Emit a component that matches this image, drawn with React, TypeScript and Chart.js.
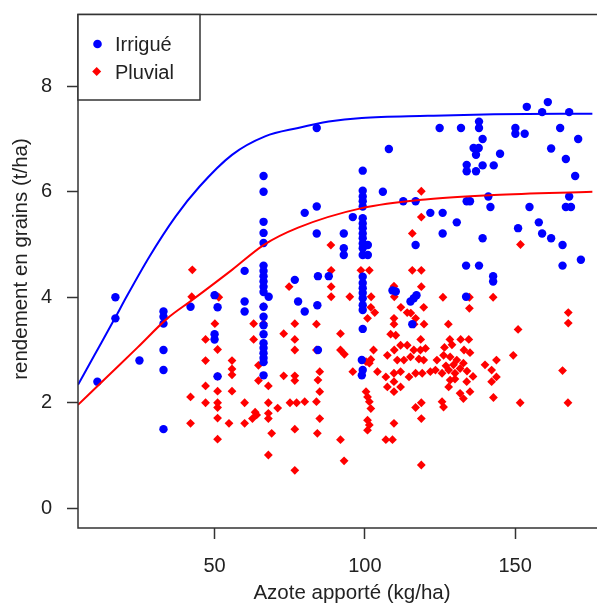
import React, { useEffect, useRef } from "react";
import { Chart, registerables } from "chart.js";

Chart.register(...registerables);

const FONT = "'Liberation Sans', Arial, sans-serif";

const xTicks = [50, 100, 150];
const yTicks = [0, 2, 4, 6, 8];
const xRange = [4.55, 175.8];
const yRange = [-0.374, 9.37];

const seriesNames = ["Irrigué", "Pluvial"];
const xTitle = "Azote apporté (kg/ha)";
const yTitle = "rendement en grains (t/ha)";

// Irrigué: [azote, rendement]
const irrigue: [number, number][] = [
  [11, 2.4], [17, 4.0], [17, 3.6], [25, 2.8],
  [33, 3.73], [33, 3.63], [33, 3.5], [33, 3.0], [33, 2.62], [33, 1.5],
  [42, 3.82],
  [50, 4.04], [51, 3.81], [50, 3.3], [50, 3.2], [51, 2.5],
  [60, 4.5], [60, 3.92], [60, 3.73],
  [66.3, 6.3], [66.3, 6.0], [66.3, 5.43], [66.3, 5.22], [66.3, 5.03], [66.3, 4.6], [66.3, 4.5],
  [66.3, 4.4], [66.3, 4.3], [66.3, 4.2], [66.3, 4.1], [66.3, 3.82], [66.3, 3.63], [66.3, 3.47],
  [66.3, 3.3], [66.3, 3.13], [66.3, 3.04], [66.3, 2.94], [66.3, 2.85], [66.3, 2.77], [66.3, 2.52], [68, 4.01],
  [76.7, 4.33], [77.8, 3.92], [80, 3.73], [80, 5.6], [84, 5.72], [84, 5.21], [84, 7.21],
  [84.4, 4.4], [88, 4.4], [84.2, 3.85], [84.4, 3.0],
  [93, 5.21], [93, 4.93], [93, 4.8], [96, 5.52],
  [99.3, 6.4], [99.3, 6.02], [99.3, 5.91], [99.3, 5.82], [99.3, 5.72], [99.3, 5.5], [99.3, 5.4],
  [99.3, 5.31], [99.3, 5.21], [99.3, 5.12], [99.3, 5.02], [99.3, 4.93], [99.3, 4.8], [99.3, 4.39],
  [99.3, 4.27], [99.3, 4.17], [99.3, 4.08], [99.3, 3.98], [99.3, 3.85], [99.3, 3.76], [99.3, 3.4],
  [99, 2.81], [99.3, 2.62], [99, 2.52], [101, 4.99], [101, 4.8],
  [106, 6.0], [108, 6.81], [112.8, 5.82], [116.9, 5.82], [121.8, 5.6], [125.9, 5.6], [125.9, 5.21],
  [116.9, 4.99], [124.9, 7.21],
  [109.2, 4.13], [110.3, 4.11], [115.2, 3.92], [116.3, 3.98], [117.2, 4.04], [115.8, 3.49],
  [132, 7.21], [138, 7.33], [138, 7.21], [139.2, 7.0], [136.2, 6.83], [137.9, 6.83], [137, 6.7],
  [145, 6.72], [133.9, 6.51], [133.9, 6.39], [137, 6.39], [139.2, 6.5], [142.9, 6.5],
  [150.1, 7.21], [150.1, 7.1], [153.2, 7.1], [153.9, 7.61], [159, 7.51], [160.9, 7.7], [168, 7.51],
  [165, 7.21], [171, 7.0], [162, 6.82], [166.9, 6.62], [170, 6.3],
  [141.1, 5.91], [133.9, 5.82], [135, 5.82], [141.8, 5.71], [154.8, 5.71], [168, 5.91], [166.9, 5.71],
  [168.6, 5.71], [130.6, 5.42], [139.2, 5.12], [151, 5.31], [157.9, 5.42], [159, 5.21], [162, 5.12],
  [165.8, 4.99], [171.9, 4.71], [165.8, 4.6], [133.7, 4.6], [138, 4.6], [142.7, 4.4], [142.7, 4.3],
  [133.7, 4.01],
];

// Pluvial: [azote, rendement]
const pluvial: [number, number][] = [
  [42.6, 4.52], [42.4, 4.01], [42, 2.11], [42, 1.61],
  [47, 3.2], [47, 2.8], [47, 2.32], [47, 2.0],
  [50.2, 4.04], [51.4, 4.0], [50.1, 3.5], [51, 3.01], [51, 2.5], [51, 2.22], [51, 2.0], [51, 1.91],
  [51, 1.71], [51, 1.31],
  [55.8, 2.8], [55.8, 2.64], [55.8, 2.53], [55.8, 2.22], [54.8, 1.61],
  [60, 2.0], [60, 1.61],
  [63, 3.5], [63, 3.2], [63.5, 1.82], [64, 1.77], [62.6, 1.7],
  [64.6, 2.71], [64.6, 2.42],
  [66.3, 3.82], [66.3, 3.5],
  [67.9, 2.32], [67.9, 2.0], [67.9, 1.8], [67.9, 1.7], [67.9, 1.01],
  [69, 1.42], [71, 1.9], [73, 3.31], [73, 2.51], [74.8, 4.2], [75.1, 2.0],
  [76.7, 3.5], [76.7, 3.2], [76.7, 3.0], [76.7, 2.51], [76.7, 2.42], [77.3, 2.0], [76.7, 1.5], [76.7, 0.72],
  [80, 2.02],
  [83.9, 3.49], [83.9, 3.0], [85, 2.59], [84.4, 2.43], [85, 2.21], [83.9, 2.02], [85, 1.7], [84.2, 1.42],
  [88.7, 4.99], [88.8, 4.51], [88.8, 4.2], [88.8, 4.01],
  [91.9, 3.31], [91.9, 3.0], [93.2, 2.92], [91.9, 1.3], [93.1, 0.9],
  [95, 4.01], [96, 2.59], [98.7, 4.51],
  [101.5, 4.51], [102, 3.81], [103.3, 3.71], [100.9, 3.6], [102.9, 3.0], [100.4, 2.78], [101.5, 2.75],
  [102, 2.82], [100.4, 2.21], [100.9, 2.11], [101.5, 2.02], [102, 1.89], [100.9, 1.67], [101.5, 1.58],
  [100.9, 1.48], [102.1, 4.01], [104.2, 2.59],
  [109.7, 4.21], [109.8, 4.01], [109.7, 3.6], [109.7, 3.49], [108.6, 3.3], [110.3, 3.28], [112, 3.81],
  [107.5, 2.9], [109.8, 3.0], [111.9, 3.09], [107, 2.49], [109.7, 2.56], [111.9, 2.59], [110.8, 2.81],
  [107.5, 2.3], [109.7, 2.21], [111.9, 2.3], [109.7, 2.4], [107, 1.3], [109.2, 1.3], [109.7, 1.61],
  [114.1, 3.71], [115.3, 3.7], [116.9, 3.6], [119.6, 3.81], [116.4, 3.49], [119.7, 3.49], [118.6, 3.2],
  [114.1, 3.09], [116.3, 3.0], [118.5, 3.0], [120.2, 3.03], [113, 2.81], [115.2, 2.87], [118, 2.83],
  [119.6, 2.81], [114.7, 2.49], [116.9, 2.56], [119.1, 2.56], [121.8, 2.59], [116.9, 1.91], [118.8, 2.0],
  [118.8, 1.7], [118.8, 0.82], [118.8, 6.01], [118.8, 5.52], [115.8, 5.21], [115.8, 4.51], [118.8, 4.51],
  [118.8, 4.2],
  [126, 4.0], [127.8, 3.49], [128.3, 3.2], [131.9, 3.2], [134.6, 3.2], [124, 2.81], [126.2, 2.9],
  [128.4, 2.87], [130.6, 2.81], [132.8, 2.75], [123.5, 2.62], [125.7, 2.56], [127.9, 2.62], [130, 2.56],
  [131.7, 2.65], [127.9, 2.3], [128.4, 2.43], [131.7, 2.18], [132.8, 2.08], [125.7, 2.02], [126.2, 1.92],
  [133.9, 2.4], [135, 2.21], [134.8, 4.0], [134.8, 3.79],
  [126.5, 3.05], [129, 3.1], [133, 3.0], [135, 2.95], [127, 2.7], [129.5, 2.72], [134, 2.6], [136, 2.5],
  [130, 2.45],
  [140, 2.72], [142.2, 2.62], [143.8, 2.49], [143.8, 2.81], [142.2, 2.4], [142.7, 4.0], [142.8, 2.1],
  [149.4, 2.9], [151, 3.39], [151.7, 2.0], [151.8, 5.0],
  [165.8, 2.61], [167.7, 3.71], [167.7, 3.51], [167.6, 2.0],
];

// fitted curves
const curveIrrigue: [number, number][] = [
  [4.55, 2.34], [10, 2.9], [17, 3.62], [20.6, 4.0], [28.3, 4.77], [37, 5.53], [45, 6.1],
  [55.8, 6.7], [66.8, 7.05], [77.8, 7.21], [88, 7.33], [99, 7.4], [121, 7.44], [143, 7.47], [175.8, 7.48],
];
const curvePluvial: [number, number][] = [
  [4.55, 1.96], [14, 2.48], [24.4, 3.05], [34.3, 3.6], [42.6, 3.95], [55.8, 4.52], [66.3, 4.99],
  [77.8, 5.32], [99, 5.69], [121, 5.86], [143, 5.94], [175.8, 6.0],
];

const BLUE = "#0000ff";
const RED = "#ff0000";
const INK = "#222222";
const FRAME = "#333333";

const toXY = (arr: [number, number][]) => arr.map(([x, y]) => ({ x, y }));

const decorPlugin = {
  id: "decor",
  afterDatasetsDraw(chart: any) {
    const { ctx, chartArea: a } = chart;
    ctx.save();
    // frame (plot box, right side cut off by picture edge)
    ctx.strokeStyle = FRAME;
    ctx.lineWidth = 1.5;
    ctx.beginPath();
    ctx.moveTo(a.right + 10, a.top + 0.5);
    ctx.lineTo(a.left, a.top + 0.5);
    ctx.lineTo(a.left, a.bottom);
    ctx.lineTo(a.right + 10, a.bottom);
    ctx.stroke();

    // legend box
    const lx = a.left, ly = a.top + 0.5, lw = 122, lh = 85.5;
    ctx.fillStyle = "#ffffff";
    ctx.fillRect(lx, ly, lw, lh);
    ctx.strokeRect(lx, ly, lw, lh);
    ctx.fillStyle = BLUE;
    ctx.beginPath();
    ctx.arc(lx + 19.5, ly + 29.5, 4.3, 0, Math.PI * 2);
    ctx.fill();
    ctx.fillStyle = RED;
    const dx = lx + 18.7, dy = ly + 57, r = 4.5;
    ctx.beginPath();
    ctx.moveTo(dx, dy - r);
    ctx.lineTo(dx + r, dy);
    ctx.lineTo(dx, dy + r);
    ctx.lineTo(dx - r, dy);
    ctx.closePath();
    ctx.fill();
    ctx.fillStyle = INK;
    ctx.font = `20px ${FONT}`;
    ctx.textAlign = "left";
    ctx.textBaseline = "alphabetic";
    ctx.fillText(seriesNames[0], lx + 37, ly + 36.5);
    ctx.fillText(seriesNames[1], lx + 37, ly + 64.5);

    // axis titles
    ctx.font = `20.5px ${FONT}`;
    ctx.textAlign = "center";
    ctx.fillText(xTitle, a.left + 274, 599);
    ctx.save();
    ctx.translate(26.5, a.top + 245);
    ctx.rotate(-Math.PI / 2);
    ctx.fillText(yTitle, 0, 0);
    ctx.restore();
    ctx.restore();
  },
};

export default function App() {
  const ref = useRef<HTMLCanvasElement | null>(null);

  useEffect(() => {
    document.body.style.margin = "0";
    document.body.style.overflow = "hidden";
    const canvas = ref.current;
    if (!canvas) return;
    const tickStyle = { color: INK, font: { size: 20, family: FONT }, padding: 15, maxRotation: 0, autoSkip: false };
    const gridStyle = { drawOnChartArea: false, drawTicks: true, tickLength: 11, tickColor: FRAME, tickWidth: 1.5 };
    const noPad = (s: any) => {
      s.paddingTop = 0;
      s.paddingBottom = 0;
      s.paddingLeft = 0;
      s.paddingRight = 0;
    };
    const chart = new Chart(canvas, {
      type: "scatter",
      data: {
        datasets: [
          {
            type: "line",
            label: "curveIrrigue",
            data: toXY(curveIrrigue),
            borderColor: BLUE,
            borderWidth: 2,
            pointRadius: 0,
            fill: false,
            cubicInterpolationMode: "monotone",
          } as any,
          {
            type: "line",
            label: "curvePluvial",
            data: toXY(curvePluvial),
            borderColor: RED,
            borderWidth: 2,
            pointRadius: 0,
            fill: false,
            cubicInterpolationMode: "monotone",
          } as any,
          {
            label: seriesNames[0],
            data: toXY(irrigue),
            pointStyle: "circle",
            pointRadius: 4.2,
            backgroundColor: BLUE,
            borderWidth: 0,
          },
          {
            label: seriesNames[1],
            data: toXY(pluvial),
            pointStyle: "rectRot",
            pointRadius: 4.4,
            backgroundColor: RED,
            borderWidth: 0,
          },
        ],
      },
      options: {
        animation: false,
        responsive: false,
        devicePixelRatio: 1,
        layout: { padding: { top: 14, left: 0, right: 0, bottom: 0 } },
        plugins: { legend: { display: false }, tooltip: { enabled: false } },
        scales: {
          x: {
            type: "linear",
            min: xRange[0],
            max: xRange[1],
            afterBuildTicks: (s: any) => {
              s.ticks = xTicks.map((v) => ({ value: v }));
            },
            afterFit: (s: any) => {
              s.height = 76;
              noPad(s);
            },
            grid: gridStyle,
            border: { display: false },
            ticks: tickStyle,
          },
          y: {
            type: "linear",
            min: yRange[0],
            max: yRange[1],
            afterBuildTicks: (s: any) => {
              s.ticks = yTicks.map((v) => ({ value: v }));
            },
            afterFit: (s: any) => {
              s.width = 78;
              noPad(s);
            },
            grid: gridStyle,
            border: { display: false },
            ticks: tickStyle,
          },
        },
      } as any,
      plugins: [decorPlugin],
    });
    return () => chart.destroy();
  }, []);

  return (
    <div style={{ position: "fixed", left: 0, top: 0, width: 597, height: 604, background: "#fff" }}>
      <canvas ref={ref} width={597} height={604} style={{ display: "block" }} />
    </div>
  );
}
